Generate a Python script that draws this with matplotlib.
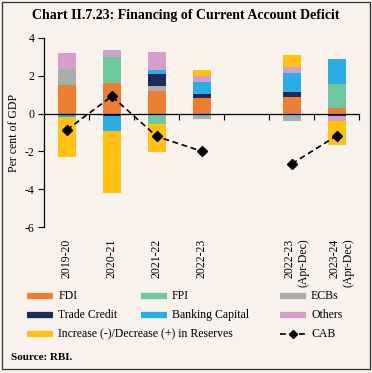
import numpy as np
import matplotlib
matplotlib.use('Agg')
import matplotlib.pyplot as plt
from matplotlib.lines import Line2D
from matplotlib.patches import Rectangle
from matplotlib.transforms import ScaledTranslation

plt.rcParams['font.family'] = ['Liberation Serif', 'DejaVu Serif']
plt.rcParams['axes.unicode_minus'] = False

# data (per cent of GDP)
categories = ['2019-20', '2020-21', '2021-22', '2022-23',
              '2022-23\n(Apr-Dec)', '2023-24\n(Apr-Dec)']
slots = [0, 1, 2, 3, 5, 6]   # one empty slot between annual and Apr-Dec

fdi = [1.53, 1.63, 1.21, 0.83, 0.86, 0.29]
fpi = [0.08, 1.36, -0.53, -0.15, -0.15, 1.29]
ecbs = [0.76, 0.0, 0.23, -0.15, -0.23, 0.0]
trade_credit = [0.0, -0.14, 0.66, 0.19, 0.26, -0.14]
banking = [-0.19, -0.79, 0.18, 0.62, 1.01, 1.28]
others = [0.80, 0.35, 0.97, 0.36, 0.33, -0.24]
reserves = [-2.09, -3.25, -1.51, 0.31, 0.62, -1.28]
cab = [-0.86, 0.91, -1.21, -1.99, -2.65, -1.17]

series = [
    ('FDI', fdi, '#ED7D31'),
    ('FPI', fpi, '#6DC7A1'),
    ('ECBs', ecbs, '#ABABAB'),
    ('Trade Credit', trade_credit, '#1C2A5C'),
    ('Banking Capital', banking, '#2AADE4'),
    ('Others', others, '#D69FCB'),
    ('Increase (-)/Decrease (+) in Reserves', reserves, '#FFC20E'),
]

bg = '#F8F1EC'
fig = plt.figure(figsize=(3.72, 3.73), dpi=100, facecolor=bg)
ax = fig.add_axes([44.3/372, 1-227.3/373, 315/372, 189.6/373], facecolor=bg)

x = np.array(slots, dtype=float)
pos_base = np.zeros(len(x))
neg_base = np.zeros(len(x))
for name, vals, col in series:
    v = np.array(vals)
    bottom = np.where(v >= 0, pos_base, neg_base)
    ax.bar(x, v, 0.41, bottom=bottom, color=col, linewidth=0, zorder=2)
    pos_base += np.where(v > 0, v, 0)
    neg_base += np.where(v < 0, v, 0)

# CAB line, broken at the empty slot
cab_x = [0, 1, 2, 3, 4, 5, 6]
cab_y = cab[:4] + [np.nan] + cab[4:]
ax.plot(cab_x, cab_y, color='black', ls=(0, (3.5, 2.2)), lw=1.2,
        marker='D', ms=5.5, zorder=4)

ax.set_xlim(-0.5, 6.5)
ax.set_ylim(-6, 4)
ax.set_yticks([4, 2, 0, -2, -4, -6])
ax.tick_params(axis='y', direction='out', length=4, width=0.8, pad=3,
               labelsize=8.5)
ax.set_ylabel('Per cent of GDP', fontsize=8.5)
ax.yaxis.set_label_coords(-0.077, 0.5)
for s in ['top', 'right']:
    ax.spines[s].set_visible(False)
ax.spines['left'].set_linewidth(0.9)
ax.spines['bottom'].set_position(('data', 0))
ax.spines['bottom'].set_linewidth(0.9)
ax.spines['bottom'].set_zorder(3)
ax.set_xticks(np.arange(-0.5, 7.0, 1.0))
ax.set_xticklabels([])
ax.tick_params(axis='x', direction='out', length=4, width=0.8)

sec = ax.secondary_xaxis(0.0)
sec.spines['bottom'].set_visible(False)
sec.set_xticks(slots)
sec.set_xticklabels(categories, rotation=90, fontsize=8.5, va='top',
                    ha='center', multialignment='right')
sec.tick_params(axis='x', length=0, pad=8)
# two-line labels: keep the first line on the bar centre
for lab in sec.get_xticklabels():
    if '\n' in lab.get_text():
        lab.set_transform(lab.get_transform() +
                          ScaledTranslation(5/100, 0, fig.dpi_scale_trans))

fig.text(0.5, 1-16/373, 'Chart II.7.23: Financing of Current Account Deficit',
         ha='center', va='center', fontsize=10, fontweight='bold')

# legend, drawn by hand in three columns
legend_items = [
    ('FDI', '#ED7D31', 0, 0), ('FPI', '#6DC7A1', 1, 0), ('ECBs', '#ABABAB', 2, 0),
    ('Trade Credit', '#1C2A5C', 0, 1), ('Banking Capital', '#2AADE4', 1, 1),
    ('Others', '#D69FCB', 2, 1),
    ('Increase (-)/Decrease (+) in Reserves', '#FFC20E', 0, 2),
]
col_x = [27.3, 141.0, 280.0]
row_y = [296, 315, 334]
for label, col, c, r in legend_items:
    x0 = col_x[c] / 372
    yy = 1 - row_y[r] / 373
    fig.add_artist(Line2D([x0, x0 + 26/372], [yy, yy], color=col, lw=4.5,
                          solid_capstyle='butt'))
    fig.text(x0 + 31/372, yy, label, ha='left', va='center', fontsize=8.5)
x0 = col_x[2] / 372
yy = 1 - row_y[2] / 373
fig.add_artist(Line2D([x0, x0 + 26/372], [yy, yy], color='black', lw=1.2,
                      ls=(0, (3.5, 2.2))))
fig.add_artist(Line2D([x0 + 13/372], [yy], color='black', marker='D', ms=4))
fig.text(x0 + 31/372, yy, 'CAB', ha='left', va='center', fontsize=8.5)

fig.text(11/372, 1-357/373, 'Source: RBI.', ha='left', va='center',
         fontsize=8, fontweight='bold')

fig.add_artist(Rectangle((1.5/372, 4/373), 368.5/372, 367.5/373,
                         transform=fig.transFigure, fill=False,
                         edgecolor='#333333', lw=0.9))

fig.savefig('out.png', dpi=100, facecolor=bg)
